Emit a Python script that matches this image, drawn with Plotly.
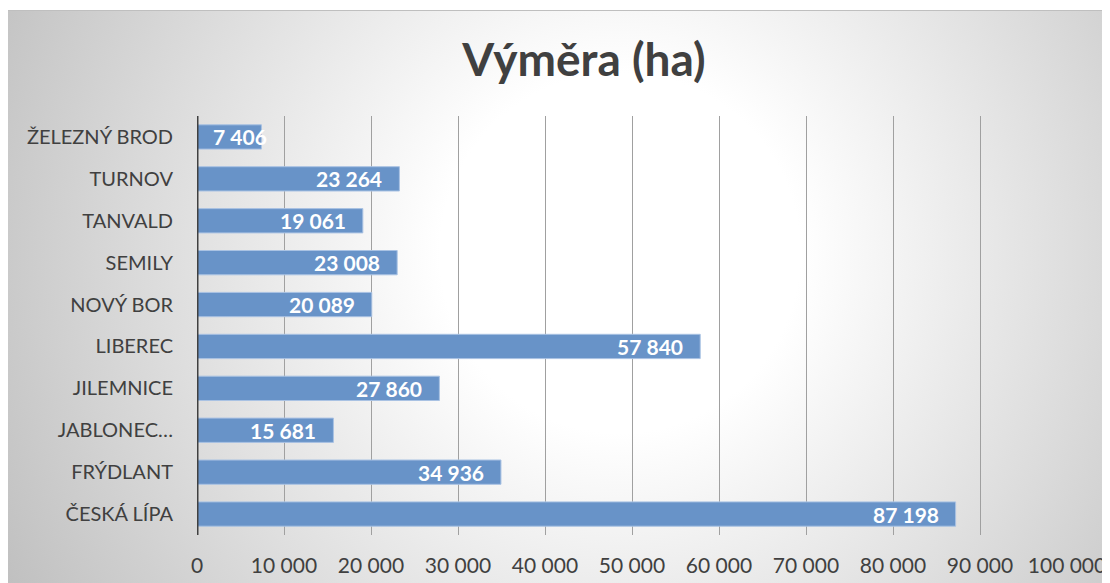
import base64
import plotly.graph_objects as go

categories = ["ČESKÁ LÍPA", "FRÝDLANT", "JABLONEC…", "JILEMNICE", "LIBEREC",
              "NOVÝ BOR", "SEMILY", "TANVALD", "TURNOV", "ŽELEZNÝ BROD"]
values = [87198, 34936, 15681, 27860, 57840, 20089, 23008, 19061, 23264, 7406]
x_ticks = [0, 10000, 20000, 30000, 40000, 50000, 60000, 70000, 80000, 90000, 100000]
title_text = "Výměra (ha)"

W, H = 1102, 575
L, R, T, B = 189, 43, 108, 48
pw, ph = W - L - R, H - T - B
XMAX = 100000

svg = f'''<svg xmlns="http://www.w3.org/2000/svg" width="{W}" height="{H}" viewBox="0 0 {W} {H}">
<defs><radialGradient id="g" cx="612" cy="245" r="720" gradientUnits="userSpaceOnUse">
<stop offset="0" stop-color="#ffffff"/><stop offset="0.25" stop-color="#ffffff"/>
<stop offset="1" stop-color="#bdbdbd"/></radialGradient></defs>
<rect x="0" y="0" width="{W}" height="{H}" fill="#ffffff"/>
<rect x="0" y="2" width="{W}" height="{H-2}" fill="url(#g)"/>
<line x1="0" y1="2.5" x2="{W}" y2="2.5" stroke="#bfbfbf" stroke-width="1"/>
</svg>'''
src = "data:image/svg+xml;base64," + base64.b64encode(svg.encode()).decode()

fig = go.Figure(go.Bar(
    x=values, y=categories, orientation="h",
    marker=dict(color="#6893c8", line=dict(color="#a9c2e3", width=1)),
    width=0.58, hoverinfo="x+y",
))

# value labels placed at the bar ends (inside end), Excel-like padding
annotations = []
px_per_unit = pw / XMAX
for c, v in zip(categories, values):
    text = f"{v:,}".replace(",", " ")
    approx_w = 11 * len(text)
    if v * px_per_unit < approx_w + 24:
        annotations.append(dict(x=0, y=c, xref="x", yref="y", text=text, showarrow=False,
                                xanchor="left", xshift=14,
                                font=dict(family="Lato", size=21, color="white", weight="bold")))
    else:
        annotations.append(dict(x=v, y=c, xref="x", yref="y", text=text, showarrow=False,
                                xanchor="right", xshift=-15,
                                font=dict(family="Lato", size=21, color="white", weight="bold")))

fig.update_layout(
    width=W, height=H,
    margin=dict(l=L, r=R, t=T, b=B, autoexpand=False),
    paper_bgcolor="white", plot_bgcolor="rgba(0,0,0,0)",
    separators=", ",
    showlegend=False,
    font=dict(family="Lato", color="#404040"),
    title=dict(text=title_text, x=576 / W, xanchor="center", y=1 - 52 / H, yanchor="middle",
               automargin=False,
               font=dict(family="Lato", size=46, color="#404040", weight="bold")),
    images=[dict(source=src, xref="paper", yref="paper",
                 x=-L / pw, y=1 + T / ph, sizex=W / pw, sizey=H / ph,
                 xanchor="left", yanchor="top", sizing="stretch", layer="below")],
    xaxis=dict(range=[0, XMAX], tickvals=x_ticks, tickformat=",d", automargin=False,
               showgrid=True, gridcolor="#a0a0a0", gridwidth=1, zeroline=False,
               showline=False, ticks="", ticklabelstandoff=16,
               tickfont=dict(family="Lato", size=21, color="#404040")),
    yaxis=dict(showgrid=False, zeroline=False, showline=False, ticks="", automargin=False,
               ticklabelstandoff=23, range=[-0.5, 9.5],
               tickfont=dict(family="Lato", size=20, color="#404040")),
    shapes=[dict(type="line", xref="x", yref="paper", x0=0, x1=0, y0=0, y1=1,
                 line=dict(color="#404040", width=3))],
    annotations=annotations,
)

fig.write_html("out.html")
